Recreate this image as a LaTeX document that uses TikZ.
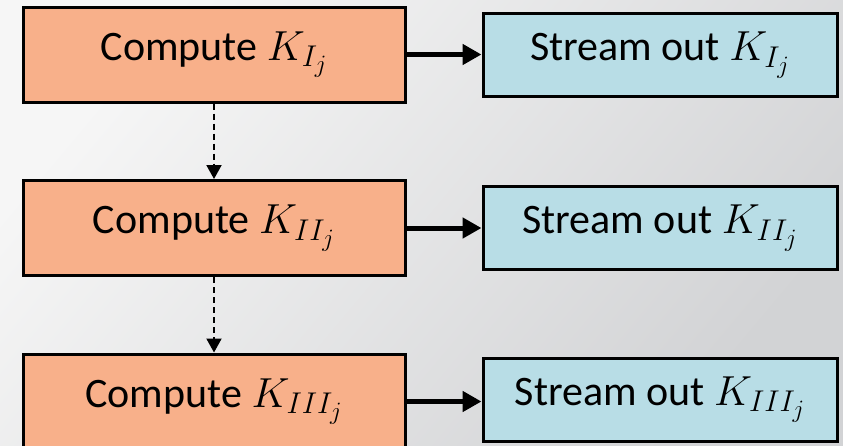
\RequirePackage{fix-cm}
\documentclass[tikz,border=0pt]{standalone}
\usepackage{fontspec}
\setmainfont{Carlito}
\DeclareMathSizes{42}{42}{30}{25}
\usetikzlibrary{arrows.meta,calc}
\definecolor{orangebox}{HTML}{F8B08A}
\definecolor{bluebox}{HTML}{B8DDE6}
\definecolor{bglight}{HTML}{F6F6F6}
\definecolor{bgdark}{HTML}{D2D3D5}
\tikzset{
  computebox/.style={draw=black, line width=3pt, fill=orangebox, minimum width=382pt, minimum height=95pt, inner sep=0pt, font=\fontsize{42}{50}\selectfont},
  streambox/.style={draw=black, line width=3pt, fill=bluebox, minimum width=354pt, minimum height=83pt, inner sep=0pt, font=\fontsize{42}{50}\selectfont},
  flowarrow/.style={line width=5pt, -{Triangle[length=19pt,width=20pt]}},
  seqarrow/.style={line width=2pt, dash pattern=on 6pt off 4pt, -{Triangle[length=14pt,width=15pt]}}
}
\begin{document}
\begin{tikzpicture}[x=1pt,y=1pt]
\useasboundingbox (0,0) rectangle (843,-445);
\clip (0,0) rectangle (843,-445);
\shade[top color=bglight, bottom color=bgdark, shading angle=50] (0,0) rectangle (843,-445);
\node[computebox] (c1) at (214,-54.5) {Compute $K_{I_j}$};
\node[computebox] (c2) at (214,-228) {Compute $K_{II_j}$};
\node[computebox] (c3) at (214,-401.5) {Compute $K_{III_j}$};
\node[streambox] (s1) at (660,-55) {Stream out $K_{I_j}$};
\node[streambox] (s2) at (660,-228) {Stream out $K_{II_j}$};
\node[streambox] (s3) at (660,-399.5) {Stream out $K_{III_j}$};
\draw[flowarrow] (c1.east) -- (c1.east -| s1.west);
\draw[flowarrow] (c2.east) -- (c2.east -| s2.west);
\draw[flowarrow] (c3.east) -- (c3.east -| s3.west);
\draw[seqarrow] (c1.south) -- (c2.north);
\draw[seqarrow] (c2.south) -- (c3.north);
\end{tikzpicture}
\end{document}
